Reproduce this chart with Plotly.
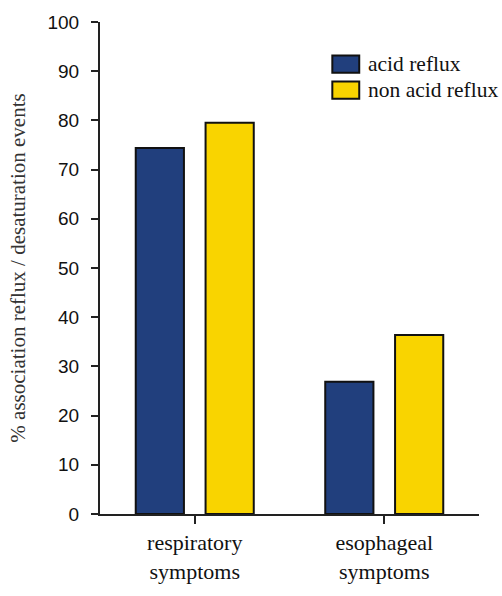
import plotly.graph_objects as go

categories = ["respiratory<br>symptoms", "esophageal<br>symptoms"]
series_names = ["acid reflux", "non acid reflux"]
acid_values = [74.4, 26.9]
non_acid_values = [79.5, 36.4]
y_ticks = [0, 10, 20, 30, 40, 50, 60, 70, 80, 90, 100]

blue = "#213F7D"
yellow = "#F9D400"
serif = "Liberation Serif"
sans = "Liberation Sans"

fig = go.Figure()
fig.add_trace(go.Bar(x=categories, y=acid_values, name=series_names[0],
                     marker=dict(color=blue, line=dict(color="#111111", width=2))))
fig.add_trace(go.Bar(x=categories, y=non_acid_values, name=series_names[1],
                     marker=dict(color=yellow, line=dict(color="#111111", width=2))))

fig.update_layout(
    width=502, height=596,
    margin=dict(l=100, r=23, t=18, b=66),
    plot_bgcolor="white", paper_bgcolor="white",
    barmode="group", bargap=0.263, bargroupgap=0.31,
    showlegend=False,
    xaxis=dict(range=[-0.5, 1.5], showline=True, linecolor="#222222", linewidth=2,
               ticks="outside", ticklen=8, tickwidth=2, tickcolor="#222222",
               tickfont=dict(family=serif, size=22, color="#111111"),
               showgrid=False, zeroline=False),
    yaxis=dict(range=[0, 100], tickvals=y_ticks, showline=True, linecolor="#222222", linewidth=2,
               ticks="outside", ticklen=7, tickwidth=2, tickcolor="#222222",
               tickfont=dict(family=sans, size=19, color="#111111"),
               ticklabelstandoff=8,
               showgrid=False, zeroline=False,
               title=dict(text="% association reflux / desaturation events",
                          font=dict(family=serif, size=21, color="#333333"), standoff=16)),
)

# manual legend
rows = [(0.932, 0.897, blue, series_names[0]), (0.879, 0.844, yellow, series_names[1])]
for y1, y0, col, name in rows:
    fig.add_shape(type="rect", xref="paper", yref="paper", x0=0.613, x1=0.684, y0=y0, y1=y1,
                  fillcolor=col, line=dict(color="#111111", width=2))
    fig.add_annotation(xref="paper", yref="paper", x=0.703, y=(y0 + y1) / 2, text=name,
                       showarrow=False, xanchor="left", yanchor="middle",
                       font=dict(family=serif, size=21.5, color="#111111"))

fig.write_html("out.html", post_script="document.body.style.margin='0';",
               config={"displayModeBar": False})
